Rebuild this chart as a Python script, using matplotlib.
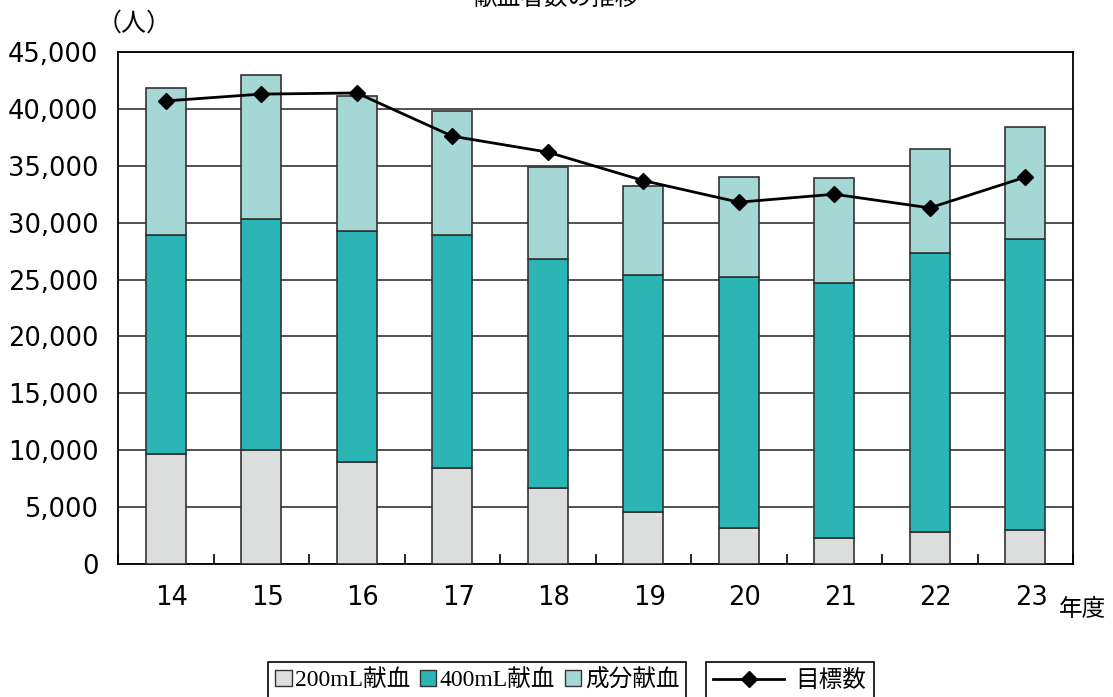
import numpy as np
import matplotlib.pyplot as plt
import matplotlib.transforms as mtransforms
from matplotlib.patches import Patch
from matplotlib.lines import Line2D
from matplotlib.ticker import FuncFormatter
from matplotlib.font_manager import FontProperties

plt.rcParams['font.family'] = ['DejaVu Sans', 'Noto Sans CJK JP']

# データ(人)
years = ['14', '15', '16', '17', '18', '19', '20', '21', '22', '23']
ml200 = [9700, 10000, 9000, 8400, 6700, 4600, 3200, 2300, 2800, 3000]
ml400 = [19200, 20300, 20300, 20500, 20100, 20800, 22000, 22400, 24500, 25600]
seibun = [12900, 12700, 11800, 10900, 8100, 7800, 8800, 9200, 9200, 9800]
target = [40700, 41300, 41400, 37600, 36200, 33700, 31800, 32500, 31300, 34000]

c200 = '#dcdddd'
c400 = '#2bb5b4'
cseibun = '#a5d8d4'
edge = '#333333'

fig = plt.figure(figsize=(11.13, 6.97), dpi=100)
ax = fig.add_axes([118/1113, 1 - 564/697, (1073-118)/1113, (564-52)/697])

x = np.arange(len(years))
w = 0.42
b1 = np.array(ml200)
b2 = b1 + np.array(ml400)
ax.bar(x, ml200, w, color=c200, edgecolor=edge, linewidth=1.2, zorder=3)
ax.bar(x, ml400, w, bottom=b1, color=c400, edgecolor=edge, linewidth=1.2, zorder=3)
ax.bar(x, seibun, w, bottom=b2, color=cseibun, edgecolor=edge, linewidth=1.2, zorder=3)
ax.plot(x, target, color='black', linewidth=2, marker='D', markersize=8, zorder=4)

ax.set_xlim(-0.5, len(years) - 0.5)
ax.set_ylim(0, 45000)
ax.set_yticks(np.arange(0, 45001, 5000))
ax.yaxis.set_major_formatter(FuncFormatter(lambda v, p: '{:,.0f}'.format(v)))
ax.grid(axis='y', color='#333333', linewidth=1.2, zorder=0)
ax.set_axisbelow(True)

# 区切りの目盛り(内向き)と年度ラベル
ax.set_xticks(np.arange(-0.5, len(years), 1))
ax.set_xticklabels([])
ax.set_xticks(x, minor=True)
ax.set_xticklabels(years, minor=True)
ax.tick_params(axis='x', which='major', direction='in', length=7, width=1.2, color='black')
ax.tick_params(axis='x', which='minor', length=0, pad=15, labelsize=18.5)
ax.tick_params(axis='y', length=0, pad=14, labelsize=18.5)
offset = mtransforms.ScaledTranslation(6/100, 0, fig.dpi_scale_trans)
for lab in ax.get_xticklabels(minor=True):
    lab.set_transform(lab.get_transform() + offset)

for s in ax.spines.values():
    s.set_color('black')
    s.set_linewidth(1.3)

fig.text(0.5, 1 - 10/697, '献血者数の推移', ha='center', va='bottom', fontsize=17,
         family=['Noto Sans CJK JP'])
fig.text(134/1113, 1 - 24/697, '（人）', ha='center', va='center', fontsize=18,
         family=['Noto Sans CJK JP'])
fig.text(1083/1113, 1 - 609/697, '年度', ha='center', va='center', fontsize=17,
         family=['Noto Sans CJK JP'])

# 凡例
lp = FontProperties(family=['Liberation Serif', 'Noto Sans CJK JP'], size=17)
handles = [Patch(facecolor=c200, edgecolor=edge, label='200mL献血'),
           Patch(facecolor=c400, edgecolor=edge, label='400mL献血'),
           Patch(facecolor=cseibun, edgecolor=edge, label='成分献血')]
leg1 = fig.legend(handles=handles, loc='upper left', bbox_to_anchor=(268/1113, 1 - 662/697),
                  ncol=3, prop=lp, handlelength=0.7, handleheight=0.7, handletextpad=0.15,
                  columnspacing=0.4, borderpad=0.3, borderaxespad=0, fancybox=False,
                  edgecolor='black', framealpha=1)
leg1.get_frame().set_linewidth(1.2)

lp2 = FontProperties(family=['Noto Sans CJK JP'], size=17)
leg2 = fig.legend(handles=[Line2D([], [], color='black', linewidth=2, marker='D', markersize=8,
                                  label='目標数')],
                  loc='upper left', bbox_to_anchor=(706/1113, 1 - 662/697), prop=lp2,
                  handlelength=3.0, handletextpad=0.5, borderpad=0.3, borderaxespad=0,
                  fancybox=False, edgecolor='black', framealpha=1)
leg2.get_frame().set_linewidth(1.2)

fig.savefig('out.png', dpi=100)
